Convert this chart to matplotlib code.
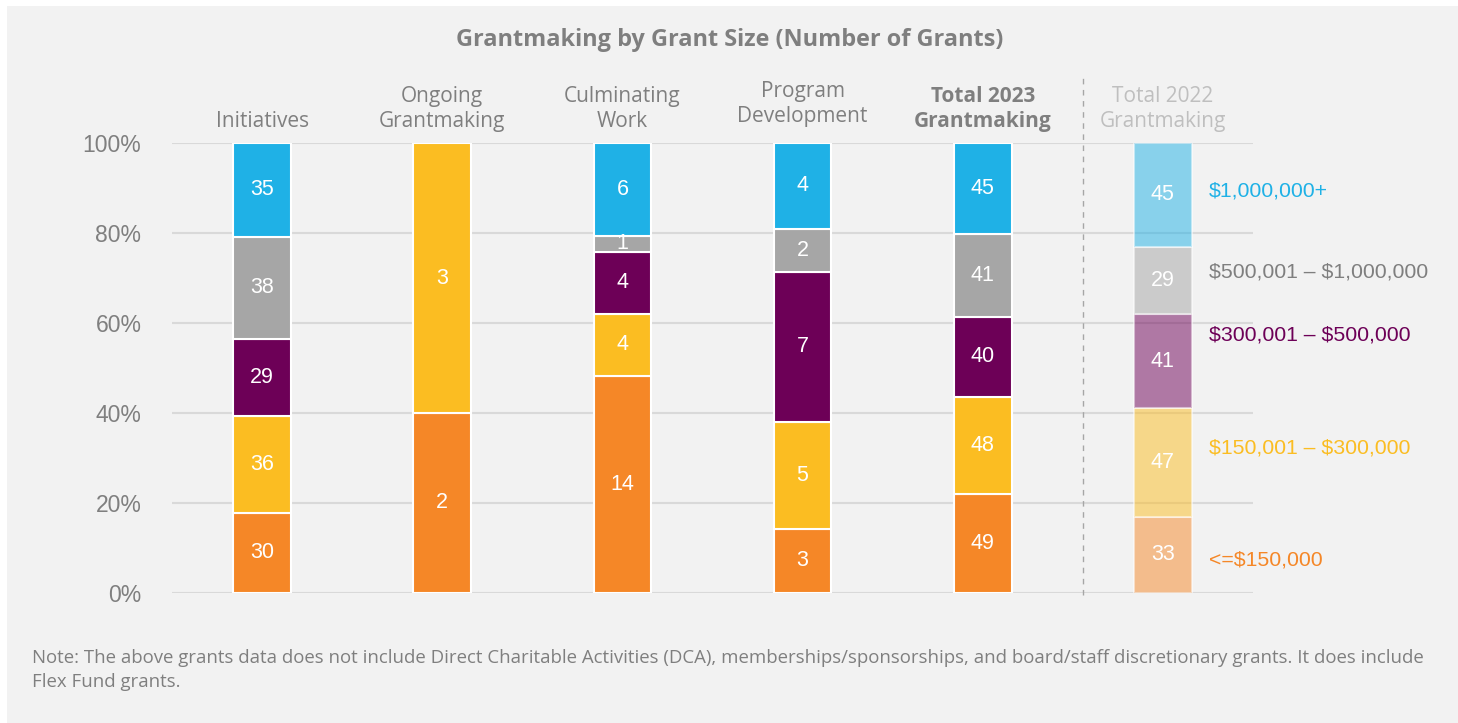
import numpy as np
import matplotlib.pyplot as plt
from matplotlib.patches import Rectangle

categories = ["Initiatives", "Ongoing\nGrantmaking", "Culminating\nWork",
              "Program\nDevelopment", "Total 2023\nGrantmaking", "Total 2022\nGrantmaking"]
size_labels = ["<=\\$150,000", "\\$150,001 \u2013 \\$300,000", "\\$300,001 \u2013 \\$500,000",
               "\\$500,001 \u2013 \\$1,000,000", "\\$1,000,000+"]
# counts per grant size, bottom to top
le_150k = [30, 2, 14, 3, 49, 33]
k150_300 = [36, 3, 4, 5, 48, 47]
k300_500 = [29, 0, 4, 7, 40, 41]
k500_1m = [38, 0, 1, 2, 41, 29]
m1_plus = [35, 0, 6, 4, 45, 45]

colors = ["#F58727", "#FBBD22", "#6D0057", "#A6A6A6", "#1FB1E6"]
text_colors = ["#F58727", "#FBBD22", "#6D0057", "#7F7F7F", "#1FB1E6"]
label_y = [0.073, 0.322, 0.573, 0.713, 0.893]

counts = np.array([le_150k, k150_300, k300_500, k500_1m, m1_plus], dtype=float)
shares = counts / counts.sum(axis=0)

bg = "#F2F2F2"
fig = plt.figure(figsize=(14.58, 7.23), dpi=100, facecolor="white")
fig.patches.append(Rectangle((7 / 1458, 0), 1, 1 - 6 / 723, transform=fig.transFigure,
                             facecolor=bg, edgecolor="none", zorder=-10))
ax = fig.add_axes([172 / 1458, 1 - 593 / 723, (1253 - 172) / 1458, 450 / 723])
ax.set_facecolor("none")

x = np.arange(len(categories))
bottom = np.zeros(len(categories))
for i in range(5):
    for j in range(len(categories)):
        h = shares[i, j]
        if h == 0:
            continue
        alpha = 0.5 if j == 5 else 1.0
        ax.bar(x[j], h, 0.32, bottom=bottom[j], color=colors[i], alpha=alpha,
               edgecolor="white", linewidth=1.5, zorder=3)
        ax.text(x[j], bottom[j] + h / 2, f"{int(counts[i, j])}", ha="center", va="center",
                color="white", fontsize=15.5, family="Liberation Sans", zorder=4)
    bottom += shares[i]

for i in range(5):
    ax.text(5.256, label_y[i], size_labels[i], color=text_colors[i], fontsize=15.3,
            family="Liberation Sans", ha="left", va="center")

ax.set_xlim(-0.5, 5.5)
ax.set_ylim(0, 1)
ax.set_yticks(np.arange(0, 1.01, 0.2))
ax.set_yticklabels([f"{int(v * 100)}%" for v in np.arange(0, 1.01, 0.2)],
                   family="Liberation Sans", fontsize=16.5, color="#7F7F7F")
ax.tick_params(axis="y", length=0, pad=22)
ax.set_xticks([])
ax.grid(axis="y", color="#D9D9D9", linewidth=1.5, zorder=0)
for s in ax.spines.values():
    s.set_visible(False)

ax.axvline(4.556, ymin=-0.005, ymax=1.15, color="#A6A6A6", linestyle=(0, (4, 4)),
           linewidth=1, clip_on=False)

for j, cat in enumerate(categories):
    weight = "bold" if j == 4 else "normal"
    col = "#BFBFBF" if j == 5 else "#7F7F7F"
    yy = 1.025 if j != 3 else 1.035
    ax.text(x[j], yy, cat, ha="center", va="bottom", fontsize=15, color=col,
            fontweight=weight, family="Open Sans", linespacing=1.25)

fig.text(730 / 1458, 1 - 40 / 723, "Grantmaking by Grant Size (Number of Grants)",
         ha="center", va="center", fontsize=16.9, fontweight="bold", color="#7F7F7F",
         family="Open Sans")

fig.text(32 / 1458, 1 - 649 / 723,
         "Note: The above grants data does not include Direct Charitable Activities (DCA), "
         "memberships/sponsorships, and board/staff discretionary grants. It does include\n"
         "Flex Fund grants.",
         ha="left", va="top", fontsize=13.4, color="#7F7F7F", family="Open Sans",
         linespacing=1.45)

fig.savefig("out.png", dpi=100, facecolor="white")
